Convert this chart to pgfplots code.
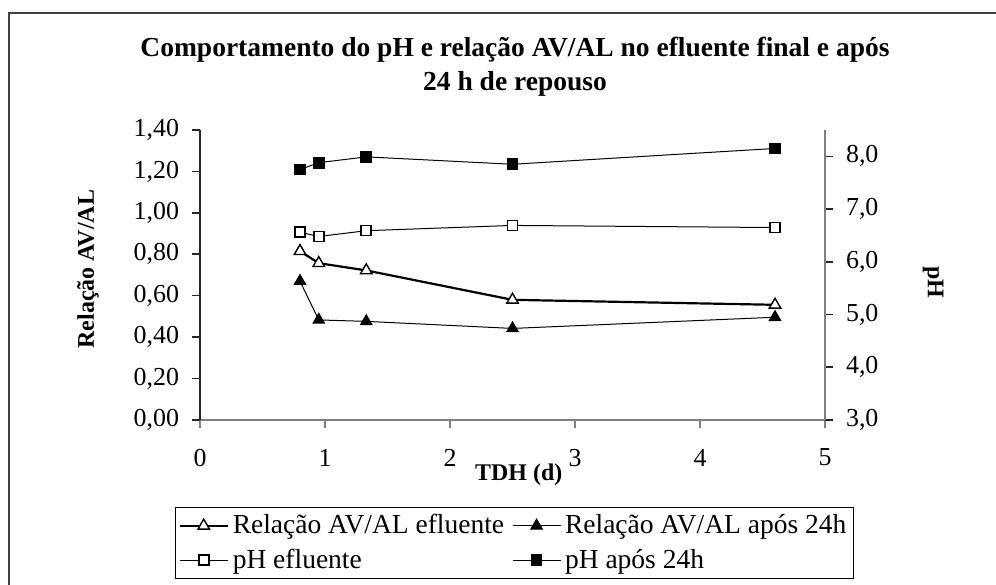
\documentclass[border=0pt]{standalone}
\usepackage{fontspec}
\setmainfont{Liberation Serif}
\usepackage{pgfplots}
\pgfplotsset{compat=1.18}
\definecolor{axgray}{HTML}{808080}
\definecolor{framegray}{HTML}{404040}
\pgfplotsset{
  /pgf/number format/assume math mode=true,
  mylegimg/.style={legend image code/.code={%
    \draw[mark repeat=2,mark phase=2] plot coordinates {(0bp,0bp)(12bp,0bp)(24bp,0bp)};}},
  s1/.style={black, line width=1.1bp, mark=triangle*, mark size=3.3bp, mark options={fill=white, solid, line width=0.7bp}},
  s2/.style={black, line width=0.5bp, mark=triangle*, mark size=3.3bp, mark options={fill=black, solid}},
  s3/.style={black, line width=0.5bp, mark=square*, mark size=2.5bp, mark options={fill=white, solid, line width=0.8bp}},
  s4/.style={black, line width=0.5bp, mark=square*, mark size=2.7bp, mark options={fill=black, solid}},
}
\begin{document}
\begin{tikzpicture}[x=0.5bp,y=0.5bp]
\useasboundingbox (0,0) rectangle (996,585);
\draw[line width=1bp, framegray] (9,572) rectangle (1020,-30);
\begin{axis}[
  at={(100bp,82.5bp)}, anchor=south west, scale only axis,
  width=312.5bp, height=145bp,
  xmin=0, xmax=5, ymin=0, ymax=1.4,
  axis x line*=bottom, axis y line*=left,
  x axis line style={axgray, line width=0.8bp},
  y axis line style={black!85, line width=0.8bp},
  x tick style={axgray, line width=0.8bp},
  y tick style={black!85, line width=0.8bp},
  tick align=outside, major tick length=4bp,
  xtick={0,1,2,3,4,5},
  ytick={0,0.2,0.4,0.6,0.8,1.0,1.2,1.4},
  tick label style={font=\fontsize{13}{15}\selectfont},
  xticklabel style={yshift=-7bp},
  yticklabel style={xshift=-3bp, /pgf/number format/.cd, fixed, fixed zerofill, precision=2, use comma},
  title={Comportamento do pH e relação AV/AL no efluente final e após\\24 h de repouso},
  title style={font=\bfseries\fontsize{13.8}{17}\selectfont, align=center, at={(axis description cs:0.504,1.178)}, anchor=center},
  xlabel={TDH (d)},
  every axis x label/.style={at={(axis description cs:0.51,-0.19)}, anchor=center, font=\bfseries\fontsize{12}{14}\selectfont},
  ylabel={Relação AV/AL},
  every axis y label/.style={at={(axis description cs:-0.179,0.52)}, anchor=center, rotate=90, font=\bfseries\fontsize{12}{14}\selectfont},
]
\addplot[s1] coordinates {(0.8,0.815) (0.95,0.757) (1.33,0.722) (2.5,0.58) (4.6,0.556)};
\addplot[s2] coordinates {(0.8,0.67) (0.95,0.483) (1.33,0.476) (2.5,0.442) (4.6,0.496)};
\end{axis}
\begin{axis}[
  at={(100bp,82.5bp)}, anchor=south west, scale only axis,
  width=312.5bp, height=145bp,
  xmin=0, xmax=5, ymin=3, ymax=8.5,
  axis x line=none, axis y line*=right,
  y axis line style={axgray, line width=0.8bp},
  y tick style={black!85, line width=0.8bp},
  tick align=outside, major tick length=4bp,
  ytick={3,4,5,6,7,8},
  tick label style={font=\fontsize{13}{15}\selectfont},
  yticklabel style={xshift=3bp, /pgf/number format/.cd, fixed, fixed zerofill, precision=1, use comma},
  ylabel={pH},
  every axis y label/.style={at={(axis description cs:1.173,0.476)}, anchor=center, rotate=-90, font=\bfseries\fontsize{12}{14}\selectfont},
  legend columns=2,
  legend style={at={(axis description cs:-0.04,-0.3)}, anchor=north west, draw=black, line width=0.6bp,
    font=\fontsize{13.8}{16}\selectfont, row sep=2bp, inner sep=1.5bp,
    /tikz/every even column/.append style={column sep=2bp}},
  legend cell align=left,
  mylegimg,
]
\addlegendimage{s1}
\addlegendentry{Relação AV/AL efluente}
\addlegendimage{s2}
\addlegendentry{Relação AV/AL após 24h}
\addplot[s3] coordinates {(0.8,6.56) (0.95,6.48) (1.33,6.59) (2.5,6.69) (4.6,6.65)};
\addlegendentry{pH efluente}
\addplot[s4] coordinates {(0.8,7.75) (0.95,7.88) (1.33,7.99) (2.5,7.85) (4.6,8.15)};
\addlegendentry{pH após 24h}
\end{axis}
\end{tikzpicture}
\end{document}
